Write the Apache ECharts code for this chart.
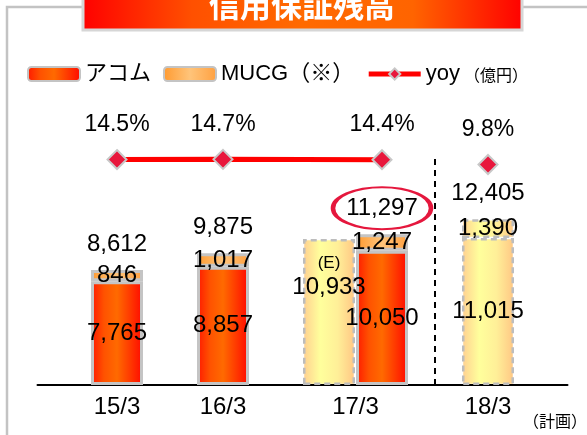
<!DOCTYPE html>
<html>
<head>
<meta charset="utf-8">
<script src="https://cdn.jsdelivr.net/npm/echarts@6/dist/echarts.min.js"></script>
<style>
  html, body { margin: 0; padding: 0; background: #fff; }
  #chart { width: 587px; height: 435px; }
</style>
</head>
<body>
<div id="chart"></div>
<script>
// 決算期
var categories = ['15/3', '16/3', '17/3', '18/3']
// 実績（億円）
var acom = [7765, 8857, 10050, null]
var mucg = [846, 1017, 1247, null]
var totals = [8612, 9875, 11297, 12405]
// 17/3 見込み(E) と 18/3 計画
var planBase = [null, null, 10933, 11015]
var planMucg = [null, null, null, 1390]
// 前年比
var yoy = [14.5, 14.7, 14.4, 9.8]

var estimateTag = '(E)'
var planNote = '（計画）'

// 棒の並び: 1本ずつ置く枠 (17/3 は見込みと実績の2本)
var slotCount = 10
var slotWidth = 53
var actualSlot = [1, 3, 6, 8]
var planSlot = [1, 3, 5, 8]
var dividerSlot = 7
var planFrom = 3

var font = "'Liberation Sans', 'Noto Sans CJK JP', sans-serif"

function spread (values, slots) {
  var out = []
  for (var s = 0; s < slotCount; s++) out.push('-')
  values.forEach(function (v, i) {
    if (v !== null) out[slots[i]] = v
  })
  return out
}
function fmt (v) {
  return Number(v).toLocaleString('en-US')
}
function hGrad (stops) {
  return new echarts.graphic.LinearGradient(0, 0, 1, 0, stops.map(function (c, i) {
    return { offset: i / (stops.length - 1), color: c }
  }))
}

var slotNames = []
for (var s = 0; s < slotCount; s++) slotNames.push('')
categories.forEach(function (c, i) { slotNames[planSlot[i]] = c })

var acomData = spread(acom, actualSlot)
var mucgData = spread(mucg, actualSlot)
var planBaseData = spread(planBase, planSlot)
var planMucgData = spread(planMucg, planSlot)
var totalData = spread(totals, actualSlot)
var yoyActual = spread(yoy.map(function (v, i) { return i < planFrom ? v : null }), actualSlot)
var yoyPlan = spread(yoy.map(function (v, i) { return i >= planFrom ? v : null }), actualSlot)

// 17/3 見込みの棒はラベルを上寄せ
var eSlot = planSlot[2]
planBaseData[eSlot] = {
  value: planBase[2],
  label: {
    position: 'insideTop',
    distance: 13,
    formatter: '{e|' + estimateTag + '}\n{v|' + fmt(planBase[2]) + '}',
    rich: {
      e: { fontSize: 17, lineHeight: 22, fontFamily: font, color: '#000' },
      v: { fontSize: 24, lineHeight: 26, fontFamily: font, color: '#000' }
    }
  }
}
// 17/3 実績合計を丸で囲む
var hlSlot = actualSlot[2]
totalData[hlSlot] = {
  value: totals[2],
  symbol: 'circle',
  symbolSize: [98, 42],
  itemStyle: { color: 'rgba(0,0,0,0)', borderColor: '#e5173d', borderWidth: 3, opacity: 1 }
}

var acomStyle = {
  color: hGrad(['#ff1800', '#ff5200', '#ff6a00', '#ff3a00', '#ff0800']),
  borderColor: '#c4c4c4',
  borderWidth: 3
}
var mucgStyle = {
  color: hGrad(['#ff9a30', '#ffc47a', '#ffa040']),
  borderColor: '#c4c4c4',
  borderWidth: 3
}
var planStyle = {
  color: hGrad(['#ffcf90', '#ffff9c', '#ffef98', '#ffc684']),
  borderColor: '#bdbdbd',
  borderWidth: 2.5,
  borderType: [6, 4]
}
var innerLabel = { show: true, position: 'inside', fontSize: 24, color: '#000', fontFamily: font, formatter: function (p) { return fmt(p.value) } }

var chart = echarts.init(document.getElementById('chart'))
chart.setOption({
  animation: false,
  textStyle: { fontFamily: font },
  graphic: [
    {
      type: 'rect', silent: true,
      shape: { x: 7, y: 7, width: 700, height: 600 },
      style: { fill: 'none', stroke: '#c3c3c3', lineWidth: 2.5 }
    },
    {
      type: 'rect', silent: true,
      shape: { x: 83, y: -10, width: 439, height: 40 },
      style: { fill: hGrad(['#ff0000', '#ff5000', '#ff6a00', '#ff6400', '#ff0000']), stroke: '#d6d6d6', lineWidth: 3 }
    },
    {
      type: 'text', silent: true, x: 302, y: 5,
      style: { text: '信用保証残高', fill: '#fff', fontSize: 31, fontWeight: 'bold', fontFamily: "'Noto Sans CJK JP', sans-serif", align: 'center', verticalAlign: 'middle' }
    },
    {
      type: 'text', silent: true, x: 555, y: 421,
      style: { text: planNote, fill: '#000', fontSize: 16, fontFamily: "'Noto Sans CJK JP', sans-serif", align: 'center', verticalAlign: 'middle' }
    }
  ],
  legend: {
    data: ['アコム', 'MUCG（※）', 'yoy'],
    left: 22,
    top: 58,
    itemWidth: 52,
    itemHeight: 14,
    itemGap: 12,
    lineStyle: { width: 5 },
    textStyle: {
      fontSize: 22,
      color: '#000',
      fontFamily: font,
      rich: {
        u: { fontSize: 16, color: '#000', fontFamily: font, padding: [6, 0, 0, 4] },
        m: { fontSize: 22, color: '#000', fontFamily: font, padding: [0, 8, 0, 0] }
      }
    },
    formatter: function (name) {
      if (name === 'yoy') return 'yoy{u|（億円）}'
      if (name === 'MUCG（※）') return '{m|' + name + '}'
      return name
    }
  },
  grid: { left: 37.5, right: 19.5, top: 158, bottom: 50 },
  xAxis: {
    type: 'category',
    data: slotNames,
    axisLine: { lineStyle: { color: '#000', width: 2 } },
    axisTick: { show: false },
    axisLabel: {
      interval: 0,
      margin: 10,
      fontSize: 24,
      color: '#000',
      fontFamily: font,
      formatter: function (v, idx) {
        return idx === eSlot ? '{r|' + v + '}' : v
      },
      rich: { r: { fontSize: 24, color: '#000', fontFamily: font, padding: [0, 0, 0, slotWidth] } }
    }
  },
  yAxis: [
    { type: 'value', min: 0, max: 17000, show: false },
    { type: 'value', min: -200, max: 16, show: false }
  ],
  series: [
    {
      name: 'アコム', type: 'bar', stack: 'total', barWidth: 52,
      data: acomData, itemStyle: acomStyle, label: innerLabel,
      markLine: {
        silent: true, symbol: ['none', 'none'],
        label: { show: false },
        lineStyle: { color: '#000', width: 2, type: [6, 5] },
        data: [{ xAxis: dividerSlot }]
      }
    },
    { name: 'MUCG（※）', type: 'bar', stack: 'total', barWidth: 52, data: mucgData, itemStyle: mucgStyle, label: innerLabel },
    { name: 'plan', type: 'bar', stack: 'total', barWidth: 52, data: planBaseData, itemStyle: planStyle, label: innerLabel },
    { name: 'planMucg', type: 'bar', stack: 'total', barWidth: 52, data: planMucgData, itemStyle: planStyle, label: innerLabel },
    {
      name: 'total', type: 'scatter', z: 5,
      data: totalData, symbolSize: 1, symbolOffset: [0, -26],
      itemStyle: { color: 'rgba(0,0,0,0)', opacity: 1 },
      label: { show: true, position: 'inside', fontSize: 24, color: '#000', opacity: 1, fontFamily: font, formatter: function (p) { return fmt(p.value) } }
    },
    {
      name: 'yoy', type: 'line', yAxisIndex: 1, z: 6,
      data: yoyActual, connectNulls: true,
      symbol: 'diamond', symbolSize: 19,
      lineStyle: { color: '#ff0000', width: 5 },
      itemStyle: { color: '#e8173c', borderColor: '#c8c8c8', borderWidth: 2 },
      label: { show: true, position: 'top', distance: 13, fontSize: 23, color: '#000', fontFamily: font, formatter: function (p) { return p.value.toFixed(1) + '%' } }
    },
    {
      name: 'yoy', type: 'line', yAxisIndex: 1, z: 6,
      data: yoyPlan,
      symbol: 'diamond', symbolSize: 19,
      lineStyle: { color: '#ff0000', width: 5 },
      itemStyle: { color: '#e8173c', borderColor: '#c8c8c8', borderWidth: 2 },
      label: { show: true, position: 'top', distance: 13, fontSize: 23, color: '#000', fontFamily: font, formatter: function (p) { return p.value.toFixed(1) + '%' } }
    }
  ]
})
</script>
</body>
</html>
